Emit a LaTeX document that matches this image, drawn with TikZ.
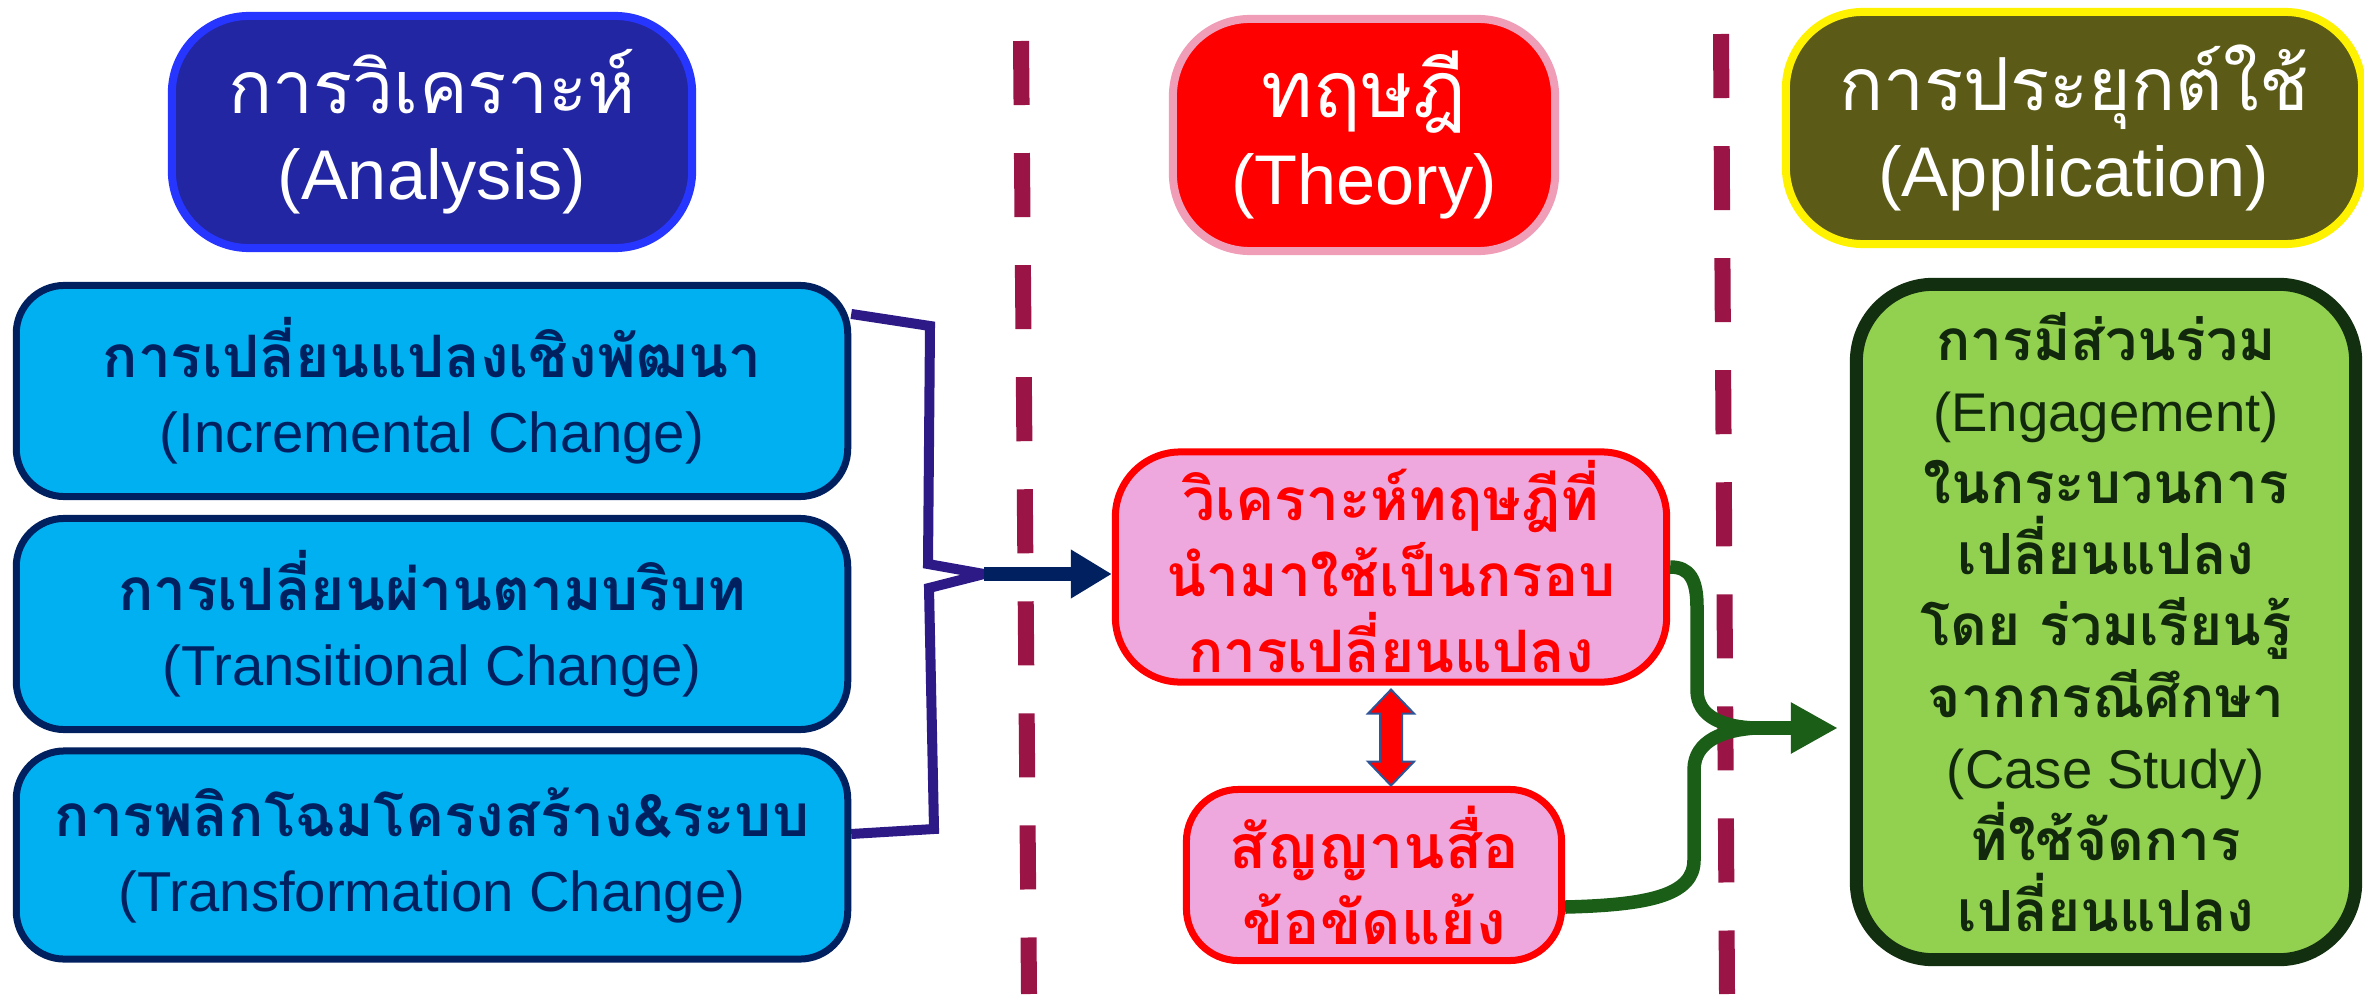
\documentclass[tikz,border=0pt]{standalone}
\usepackage{fontspec}
\setmainfont{Liberation Sans}
\newfontfamily\thaifont[Script=Thai, Scale=1.04]{Loma}
\usetikzlibrary{arrows.meta,calc}

\newcommand{\thl}[1]{{\thaifont #1}}
\newcommand{\thb}[1]{{\thaifont\bfseries #1}}

\definecolor{dashRed}{RGB}{155,20,70}
\definecolor{anaFill}{RGB}{34,38,163}
\definecolor{anaLine}{RGB}{38,53,255}
\definecolor{theoLine}{RGB}{240,158,184}
\definecolor{appFill}{RGB}{91,90,23}
\definecolor{cyanFill}{RGB}{0,176,240}
\definecolor{navy}{RGB}{0,32,96}
\definecolor{braceCol}{RGB}{46,26,135}
\definecolor{pinkFill}{RGB}{238,168,222}
\definecolor{greenArr}{RGB}{26,94,23}
\definecolor{engFill}{RGB}{146,208,80}
\definecolor{engLine}{RGB}{18,48,15}
\definecolor{engText}{RGB}{17,40,12}
\definecolor{dblLine}{RGB}{47,85,151}

\tikzset{
	head/.style={draw, line width=0.8mm, rounded corners=0.77cm, align=center, inner sep=0pt,
		text=white, minimum height=2.32cm, font=\fontsize{20}{24.5}\selectfont},
	change/.style={draw=navy, fill=cyanFill, line width=0.7mm, rounded corners=0.48cm, align=center,
		inner sep=0pt, text=navy, minimum width=8.31cm, font=\fontsize{16}{21.3}\selectfont},
	theobox/.style={draw=red, fill=pinkFill, line width=0.7mm, align=center, inner sep=0pt,
		text=red, font=\fontsize{16}{21.6}\selectfont},
	divider/.style={dashRed, line width=1.6mm, dash pattern=on 0.64cm off 0.48cm},
	brace/.style={braceCol, line width=1mm},
	navyArr/.style={navy, line width=1.4mm, -{Triangle[length=0.41cm,width=0.46cm]}},
	dblArr/.style={fill=red, draw=dblLine, line width=0.2mm},
	greenLine/.style={greenArr, line width=1.35mm}
}

\begin{document}
\begin{tikzpicture}[x=0.01cm, y=-0.01cm]
		%%%%% START %%%%%
		\useasboundingbox (0,0) rectangle (2364,994);
		
		\draw[divider] (1021,41) -- (1029,994);
		\draw[divider] (1721,34) -- (1727,994);
		
		% headers
		\node[head, fill=anaFill, draw=anaLine, minimum width=5.2cm] (hAna) at (432,132) {\thl{การวิเคราะห์}\\(Analysis)};
		\node[head, fill=red, draw=theoLine, minimum width=3.82cm] (hTheo) at (1364,135) {\thl{\fontsize{21.5}{24.5}\selectfont ทฤษฎี}\\(Theory)};
		\node[head, fill=appFill, draw=yellow, minimum width=5.76cm] (hApp) at (2074,128) {\thl{การประยุกต์ใช้}\\(Application)};
		
		% analysis
		\node[change, minimum height=2.11cm] (inc) at (432,391) {\thb{การเปลี่ยนแปลงเชิงพัฒนา}\\(Incremental Change)};
		\node[change, minimum height=2.11cm] (trans) at (432,624) {\thb{การเปลี่ยนผ่านตามบริบท}\\(Transitional Change)};
		\node[change, minimum height=2.08cm] (transf) at (432,855) {\thb{การพลิกโฉมโครงสร้าง\&ระบบ}\\(Transformation Change)};
		
		\coordinate (tip) at (984,574);
		\draw[brace] ([yshift=0.77cm]inc.east) -- (930,326) -- (928,564) -- (tip) -- (929,588) -- (934,829) -- ([yshift=0.21cm]transf.east);
		
		% theory
		\node[theobox, rounded corners=0.65cm, minimum width=5.51cm, minimum height=2.3cm] (theo) at (1391,567) {\thb{วิเคราะห์ทฤษฎีที่}\\\thb{นำมาใช้เป็นกรอบ}\\\thb{การเปลี่ยนแปลง}};
		\node[theobox, rounded corners=0.52cm, minimum width=3.75cm, minimum height=1.71cm, font=\fontsize{16.6}{21.6}\selectfont] (signal) at (1374,875) {\thb{สัญญานสื่อ}\\\thb{ข้อขัดแย้ง}};
		
		\draw[navyArr] (tip) -- (tip -| theo.west);
		\draw[dblArr] ([yshift=-0.04cm]theo.south) -- ++(23,24) -- ++(-12,0) -- ++(0,48) -- ++(12,0) -- ++(-23,24) -- ++(-23,-24) -- ++(12,0) -- ++(0,-48) -- ++(-12,0) -- cycle;
		
		% application
		\node[draw=engLine, fill=engFill, line width=1.3mm, rounded corners=0.77cm, align=center, inner sep=0pt,
			text=engText, minimum width=4.99cm, minimum height=6.75cm, font=\fontsize{15.5}{20.3}\selectfont] (engage) at (2106,622)
			{\thb{การมีส่วนร่วม}\\(Engagement)\\\thb{ในกระบวนการ}\\\thb{เปลี่ยนแปลง}\\\thb{โดย ร่วมเรียนรู้}\\\thb{จากกรณีศึกษา}\\(Case Study)\\\thb{ที่ใช้จัดการ}\\\thb{เปลี่ยนแปลง}};
		
		\coordinate (merge) at (1755,728);
		\draw[greenLine] (theo.east) .. controls (1690,567) and (1697,580) .. (1697,607) -- (1697,690) .. controls (1697,718) and (1725,727) .. (merge);
		\draw[greenLine] ([yshift=-0.32cm]signal.east) .. controls (1650,905) and (1694,895) .. (1694,860) -- (1694,770) .. controls (1694,740) and (1725,730) .. (merge);
		\draw[greenLine, -{Triangle[length=0.47cm,width=0.48cm]}, shorten >=0.12cm] (merge) -- (merge -| engage.west);
		
		%%%%% END %%%%%
	\end{tikzpicture}
\end{document}
